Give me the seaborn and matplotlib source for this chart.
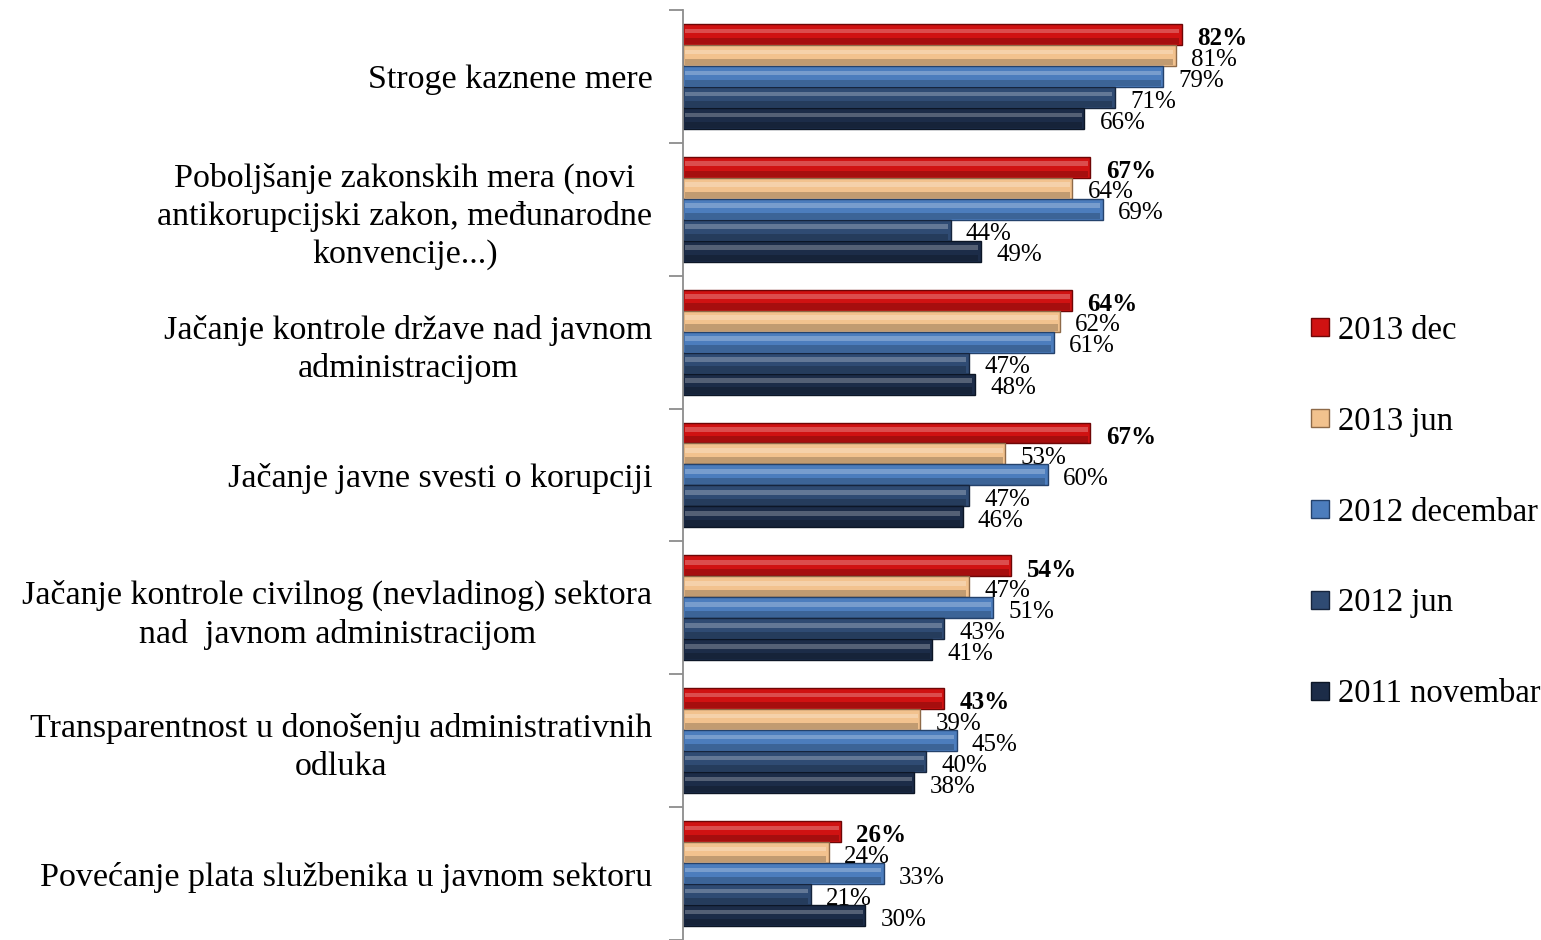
import pandas as pd
import matplotlib
matplotlib.use("Agg")
import matplotlib.pyplot as plt
from matplotlib.lines import Line2D
from matplotlib.patches import Rectangle
import seaborn as sns

# --- DATA ---
categories = [
    "Stroge kaznene mere",
    "Poboljšanje zakonskih mera (novi\nantikorupcijski zakon, međunarodne\nkonvencije...)",
    "Jačanje kontrole države nad javnom\nadministracijom",
    "Jačanje javne svesti o korupciji",
    "Jačanje kontrole civilnog (nevladinog) sektora\nnad  javnom administracijom",
    "Transparentnost u donošenju administrativnih\nodluka",
    "Povećanje plata službenika u javnom sektoru",
]
series = ["2013 dec", "2013 jun", "2012 decembar", "2012 jun", "2011 novembar"]
dec_2013 = [82, 67, 64, 67, 54, 43, 26]
jun_2013 = [81, 64, 62, 53, 47, 39, 24]
dec_2012 = [79, 69, 61, 60, 51, 45, 33]
jun_2012 = [71, 44, 47, 47, 43, 40, 21]
nov_2011 = [66, 49, 48, 46, 41, 38, 30]
colors = ["#D01212", "#F2C28E", "#4C7DBD", "#2F4B73", "#1C2C48"]
edges = ["#6E0606", "#8E6A48", "#24426C", "#16253D", "#0C1626"]

values = [dec_2013, jun_2013, dec_2012, jun_2012, nov_2011]
rows = []
for s, vals in zip(series, values):
    for c, v in zip(categories, vals):
        rows.append({"category": c, "series": s, "value": v})
df = pd.DataFrame(rows)

sns.set_theme(style="white")
plt.rcParams["font.family"] = ["Liberation Serif", "DejaVu Serif"]
plt.rcParams["text.color"] = "black"
plt.rcParams["ytick.labelcolor"] = "black"

fig = plt.figure(figsize=(15.41, 9.40), dpi=100)
ax = fig.add_axes([0.4432, 0.0, 0.3946, 0.9894])

sns.barplot(data=df, x="value", y="category", hue="series", orient="h",
            palette=colors, saturation=1, width=0.79, ax=ax, legend=False,
            order=categories, hue_order=series)

# bevel look + value labels
n_cat = len(categories)
for i, (s, vals) in enumerate(zip(series, values)):
    patches = ax.patches[i * n_cat:(i + 1) * n_cat]
    for p, v in zip(patches, vals):
        p.set_edgecolor(edges[i])
        p.set_linewidth(1.0)
        x0, y0, w, h = p.get_x(), p.get_y(), p.get_width(), p.get_height()
        # lighter band in the upper middle, darker band at the bottom
        ax.add_patch(Rectangle((x0 + 0.4, y0 + h * 0.22), w - 0.8, h * 0.22,
                               facecolor="white", alpha=0.25, linewidth=0))
        ax.add_patch(Rectangle((x0 + 0.4, y0 + h * 0.66), w - 0.8, h * 0.30,
                               facecolor="black", alpha=0.2, linewidth=0))
        yc = y0 + h / 2
        ax.annotate(f"{v}%", xy=(v, yc), xytext=(11, -3),
                    textcoords="offset points", ha="left", va="center",
                    fontsize=18, fontweight="bold" if i == 0 else "normal",
                    color="black")

ax.set_xlim(0, 100)
ax.set_ylim(n_cat - 0.5, -0.5)
ax.set_xlabel("")
ax.set_ylabel("")
ax.set_xticks([])
for side in ["top", "right", "bottom"]:
    ax.spines[side].set_visible(False)
ax.spines["left"].set_color("#8C8C8C")
ax.spines["left"].set_linewidth(1.3)

ax.set_yticks(range(n_cat))
ax.set_yticklabels(categories, fontsize=24.5, linespacing=1.3)
ax.set_yticks([k - 0.5 for k in range(n_cat + 1)], minor=True)
ax.tick_params(axis="y", which="major", length=0, pad=22)
ax.tick_params(axis="y", which="minor", length=10, width=1.3, color="#8C8C8C", left=True)
for lab in ax.get_yticklabels():
    lab.set_multialignment("center")

handles = [Line2D([0], [0], marker="s", linestyle="", markersize=13,
                  markerfacecolor=c, markeredgecolor=e, markeredgewidth=1)
           for c, e in zip(colors, edges)]
fig.legend(handles, series, loc="center left", bbox_to_anchor=(0.8385, 0.455),
           frameon=False, fontsize=23.5, labelspacing=1.85, handletextpad=0.1,
           handlelength=0.9, borderaxespad=0)

plt.savefig("out.png", dpi=100)
